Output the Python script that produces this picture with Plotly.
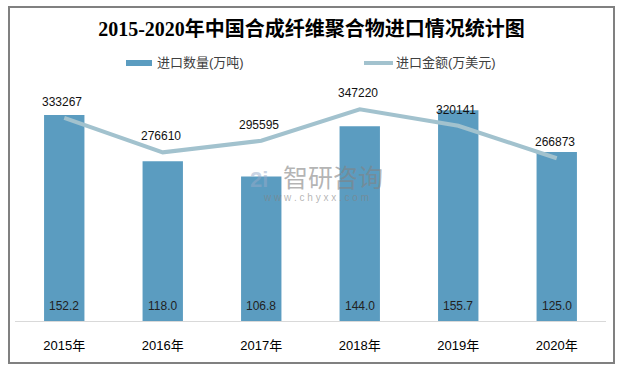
import plotly.graph_objects as go

years = ["2015年", "2016年", "2017年", "2018年", "2019年", "2020年"]
qty = [152.2, 118.0, 106.8, 144.0, 155.7, 125.0]          # 进口数量(万吨)
amount = [333267, 276610, 295595, 347220, 320141, 266873]  # 进口金额(万美元)
qty_labels = ["152.2", "118.0", "106.8", "144.0", "155.7", "125.0"]
amount_labels = [str(v) for v in amount]

W, H = 633, 369
L, R, T, B = 15, 27, 75, 48
pw, ph = W - L - R, H - T - B

def px_x(x):
    return (x - L) / pw

def px_y(y):
    return (H - B - y) / ph

BAR = "#5b9cc0"
LINE = "#a2c2ce"
FONT = "Liberation Sans, Noto Sans CJK SC, sans-serif"

fig = go.Figure()
fig.add_trace(go.Bar(x=years, y=qty, name="进口数量(万吨)", marker=dict(color=BAR, line=dict(width=0)),
                     showlegend=False, hoverinfo="skip"))
fig.add_trace(go.Scatter(x=years, y=amount, name="进口金额(万美元)", yaxis="y2", mode="lines",
                         line=dict(color=LINE, width=4), showlegend=False, hoverinfo="skip"))

ann = []
for yr, q, lab in zip(years, qty, qty_labels):
    ann.append(dict(x=yr, y=0, xref="x", yref="y", text=lab, showarrow=False, yanchor="bottom",
                    yshift=6, font=dict(size=12, color="#222222", family=FONT)))
for yr, a, lab in zip(years, amount, amount_labels):
    ann.append(dict(x=yr, y=a, xref="x", yref="y2", text=lab, showarrow=False, yanchor="bottom",
                    yshift=7, xshift=-2, font=dict(size=12, color="#111111", family=FONT)))

# custom legend
shapes = [
    dict(type="rect", xref="paper", yref="paper", x0=px_x(126), x1=px_x(152), y0=px_y(66), y1=px_y(60),
         fillcolor=BAR, line=dict(width=0)),
    dict(type="line", xref="paper", yref="paper", x0=px_x(364), x1=px_x(393), y0=px_y(63), y1=px_y(63),
         line=dict(color=LINE, width=4)),
    # outer frame
    dict(type="rect", xref="paper", yref="paper", x0=px_x(9), x1=px_x(614), y0=px_y(363), y1=px_y(7),
         line=dict(color="#808080", width=2), fillcolor="rgba(0,0,0,0)", layer="above"),
]
ann.append(dict(x=px_x(155), y=px_y(63), xref="paper", yref="paper", text="进口数量(万吨)", showarrow=False,
                xanchor="left", yanchor="middle", font=dict(size=13, color="#404040", family=FONT)))
ann.append(dict(x=px_x(394), y=px_y(63), xref="paper", yref="paper", text="进口金额(万美元)", showarrow=False,
                xanchor="left", yanchor="middle", font=dict(size=13, color="#404040", family=FONT)))

# watermark
ann.append(dict(x=px_x(333), y=px_y(178), xref="paper", yref="paper", text="智研咨询", showarrow=False,
                xanchor="center", yanchor="middle", font=dict(size=25, color="rgba(130,130,130,0.6)", family=FONT)))
ann.append(dict(x=px_x(316), y=px_y(197), xref="paper", yref="paper", text="w w w . c h y x x . c o m",
                showarrow=False, xanchor="center", yanchor="middle",
                font=dict(size=10, color="rgba(130,130,130,0.6)", family=FONT)))
ann.append(dict(x=px_x(259), y=px_y(179), xref="paper", yref="paper", text="<b>2i</b>",
                showarrow=False, xanchor="center", yanchor="middle",
                font=dict(size=22, color="rgba(150,170,200,0.5)", family=FONT)))

fig.update_layout(
    width=W, height=H,
    margin=dict(l=L, r=R, t=T, b=B),
    paper_bgcolor="white", plot_bgcolor="white",
    bargap=0.59,
    title=dict(text="<b>2015-2020年中国合成纤维聚合物进口情况统计图</b>", xref="container", yref="container",
               x=311.5 / W, y=1 - 29 / H, xanchor="center", yanchor="middle",
               font=dict(size=20, color="black", family="Liberation Serif, Noto Sans CJK SC, serif")),
    xaxis=dict(showline=True, linecolor="#d9d9d9", linewidth=1, showgrid=False, ticks="",
               ticklabelstandoff=12, tickfont=dict(size=13, color="black", family=FONT), fixedrange=True),
    yaxis=dict(range=[0, ph / 1.353], visible=False, showgrid=False),
    yaxis2=dict(range=[0, ph * 1640], overlaying="y", visible=False, showgrid=False),
    showlegend=False,
    annotations=ann,
    shapes=shapes,
)

fig.write_html("out.html", config={"displayModeBar": False},
               post_script="document.body.style.margin='0';document.body.style.overflow='hidden';")
